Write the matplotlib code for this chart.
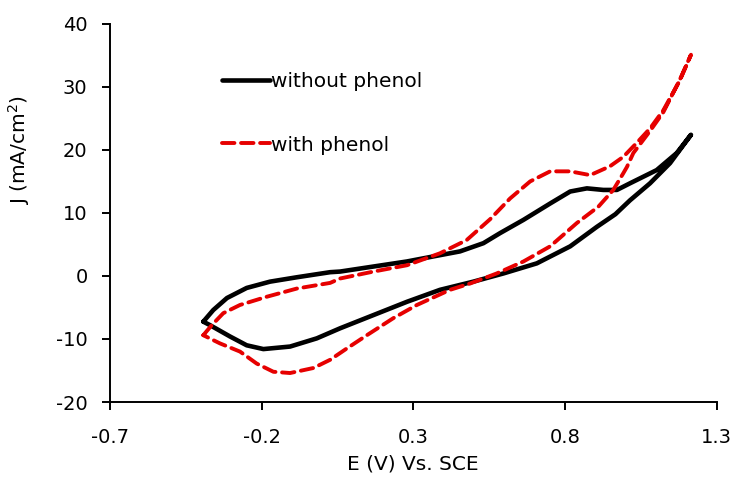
import matplotlib
matplotlib.use("Agg")
import matplotlib.pyplot as plt

plt.rcParams['font.family'] = ['DejaVu Sans']
plt.rcParams['axes.unicode_minus'] = False

# without phenol: forward scan then return scan (E in V, J in mA/cm2)
e_without = [-0.392, -0.359, -0.314, -0.249, -0.172, -0.083, 0.026, 0.059, 0.169, 0.279,
             0.366, 0.454, 0.531, 0.586, 0.663, 0.751, 0.817, 0.872, 0.926, 0.971,
             1.014, 1.102, 1.168, 1.215,
             1.146, 1.080, 1.014, 0.966, 0.905, 0.817, 0.707, 0.597, 0.498, 0.388,
             0.279, 0.169, 0.059, -0.018, -0.106, -0.194, -0.249, -0.304, -0.370, -0.392]
j_without = [-7.25, -5.4, -3.5, -1.9, -0.9, -0.2, 0.6, 0.7, 1.5, 2.3,
             3.1, 3.9, 5.2, 6.8, 8.9, 11.5, 13.4, 13.9, 13.65, 13.65,
             14.7, 16.8, 19.5, 22.4,
             17.9, 14.7, 12.0, 9.8, 7.8, 4.7, 2.0, 0.4, -0.9, -2.2,
             -4.1, -6.2, -8.3, -9.9, -11.2, -11.6, -11.0, -9.6, -7.8, -7.25]

# with phenol
e_with = [-0.392, -0.364, -0.326, -0.271, -0.183, -0.084, 0.026, 0.059, 0.169, 0.279,
          0.388, 0.476, 0.553, 0.619, 0.685, 0.751, 0.817, 0.883, 0.948, 0.992,
          1.014, 1.036, 1.080, 1.124, 1.179, 1.215,
          1.176, 1.124, 1.080, 1.025, 1.004, 0.992, 0.959, 0.910, 0.839, 0.751,
          0.663, 0.575, 0.487, 0.421, 0.312, 0.234, 0.147, 0.081, 0.026, -0.029,
          -0.106, -0.161, -0.216, -0.271, -0.337, -0.392]
j_with = [-9.4, -7.8, -5.9, -4.6, -3.3, -2.0, -1.1, -0.4, 0.7, 1.7,
          3.6, 5.7, 9.0, 12.3, 15.0, 16.6, 16.6, 16.0, 17.4, 18.9,
          20.0, 21.1, 23.4, 26.3, 31.1, 35.1,
          30.9, 26.0, 23.0, 19.5, 17.3, 16.3, 13.65, 11.0, 8.4, 4.7,
          2.3, 0.4, -1.2, -2.2, -4.6, -6.7, -9.4, -11.5, -13.3, -14.6,
          -15.4, -15.2, -13.9, -12.0, -10.7, -9.4]

x_ticks = [-0.7, -0.2, 0.3, 0.8, 1.3]
y_ticks = [-20, -10, 0, 10, 20, 30, 40]

fig = plt.figure(figsize=(7.42, 4.87), dpi=100)
ax = fig.add_axes([0.148, 0.1745, 0.818, 0.7765])

ax.plot(e_without, j_without, color='black', lw=3.3, solid_joinstyle='round',
        solid_capstyle='round', label='without phenol')
ax.plot(e_with, j_with, color='#e60000', lw=2.8, dashes=(3.2, 1.7),
        dash_capstyle='round', dash_joinstyle='round', label='with phenol')

ax.set_xlim(-0.7, 1.3)
ax.set_ylim(-20, 40)
ax.set_xticks(x_ticks)
ax.set_xticklabels([f'{t:g}' for t in x_ticks])
ax.set_yticks(y_ticks)

for s in ['top', 'right']:
    ax.spines[s].set_visible(False)
for s in ['left', 'bottom']:
    ax.spines[s].set_linewidth(1.4)
ax.tick_params(direction='out', length=6, width=1.4, labelsize=14)
ax.tick_params(axis='x', pad=13)
ax.tick_params(axis='y', pad=10)

ax.set_xlabel('E (V) Vs. SCE', fontsize=14.5, labelpad=5)
ax.set_ylabel('J (mA/cm$^2$)', fontsize=14.5)
ax.yaxis.set_label_coords(-0.128, 0.667)

ax.legend(loc='upper left', bbox_to_anchor=(0.155, 0.92), frameon=False,
          fontsize=14.5, handlelength=2.4, handletextpad=0.05, labelspacing=2.2)

fig.savefig('out.png', dpi=100)
